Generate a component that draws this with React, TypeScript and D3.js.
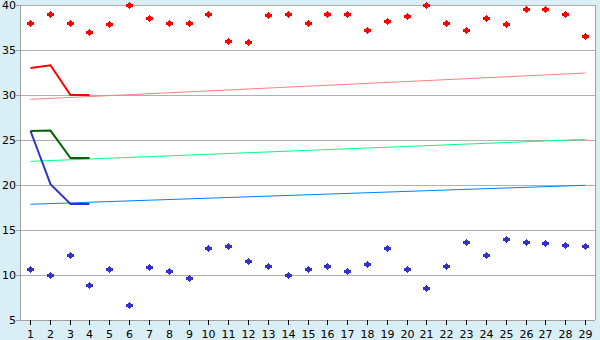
import React from "react";
import * as d3 from "d3";

const categories = Array.from({ length: 29 }, (_, i) => String(i + 1));
const redPoints = [38, 39, 38, 37, 37.85, 40, 38.5, 38, 38, 39, 36, 35.85, 38.85, 39, 38, 39, 39, 37.2, 38.2, 38.75, 40, 38, 37.2, 38.5, 37.85, 39.5, 39.6, 39, 36.5];
const bluePoints = [10.63, 10, 12.2, 8.85, 10.63, 6.63, 10.85, 10.41, 9.63, 12.96, 13.19, 11.52, 10.96, 10, 10.63, 10.96, 10.41, 11.19, 12.96, 10.63, 8.52, 10.96, 13.63, 12.19, 13.96, 13.63, 13.52, 13.3, 13.19];
const redLine = [33, 33.3, 30, 30];
const greenLine = [26, 26.05, 23, 23];
const blueLine = [26, 20.1, 17.9, 17.9];
const redTrend = [29.52, 32.44];
const greenTrend = [22.63, 25.07];
const blueTrend = [17.86, 19.97];
const yTicks = [5, 10, 15, 20, 25, 30, 35, 40];

const W = 600, H = 340;
const L = 20, R = 595, T = 5, B = 320;

export default function App() {
  const x = d3.scalePoint<string>().domain(categories).range([L, R]).padding(0.5);
  const y = d3.scaleLinear().domain([5, 40]).range([B, T]);
  const xi = (i: number) => Math.round(x(categories[i])!) + 0.5;
  const line = d3.line<number>().x((_, i) => xi(i)).y((d) => y(d));
  const trend = (t: number[]) =>
    d3.line<number>().x((_, i) => (i === 0 ? xi(0) : xi(categories.length - 1))).y((d) => y(d))(t)!;
  const marker = (cx: number, cy: number) => {
    const X = Math.round(cx), Y = Math.round(cy);
    return (
      `M${X},${Y - 3}h1v1h1v1h2v3h-2v1h-1v1h-1v-1h-1v-1h-2v-3h2v-1h1z`
    );
  };
  const font = "DejaVu Sans, Verdana, sans-serif";
  return (
    <svg width={W} height={H} style={{ position: "absolute", left: 0, top: 0 }} fontFamily={font}>
      <rect x={0} y={0} width={W} height={H} fill="#d9eef5" />
      <rect x={L} y={T} width={R - L} height={B - T} fill="#ffffff" />
      {yTicks.map((t) => (
        <g key={t}>
          <line x1={L} x2={R} y1={Math.round(y(t)) + 0.5} y2={Math.round(y(t)) + 0.5} stroke="#b0b0b0" />
          <line x1={L - 4} x2={L} y1={Math.round(y(t)) + 0.5} y2={Math.round(y(t)) + 0.5} stroke="#a0a0a0" />
          <text x={16} y={y(t)} dy="0.35em" textAnchor="end" fontSize={11} fill="#000">{t}</text>
        </g>
      ))}
      <line x1={L + 0.5} x2={L + 0.5} y1={T} y2={B} stroke="#a0a0a0" />
      <line x1={R + 0.5} x2={R + 0.5} y1={T} y2={B} stroke="#a0a0a0" />
      <line x1={L} x2={R} y1={B + 0.5} y2={B + 0.5} stroke="#a0a0a0" />
      {categories.map((c, i) => (
        <g key={c}>
          <line x1={xi(i)} x2={xi(i)} y1={B} y2={B + 5} stroke="#000" />
          <text x={xi(i)} y={338} textAnchor="middle" fontSize={11} fill="#000">{c}</text>
        </g>
      ))}
      <path d={trend(redTrend)} stroke="#ff8080" strokeWidth={1} fill="none" />
      <path d={trend(greenTrend)} stroke="#00ff80" strokeWidth={1} fill="none" />
      <path d={trend(blueTrend)} stroke="#0080ff" strokeWidth={1} fill="none" />
      <path d={line(redLine)!} stroke="#ff0000" strokeWidth={2} fill="none" />
      <path d={line(greenLine)!} stroke="#006600" strokeWidth={2} fill="none" />
      <path d={line(blueLine)!} stroke="#3333cc" strokeWidth={2} fill="none" />
      {redPoints.map((v, i) => (
        <path key={"r" + i} d={marker(x(categories[i])!, y(v))} fill="#ff0000" />
      ))}
      {bluePoints.map((v, i) => (
        <path key={"b" + i} d={marker(x(categories[i])!, y(v))} fill="#3333cc" />
      ))}
    </svg>
  );
}
